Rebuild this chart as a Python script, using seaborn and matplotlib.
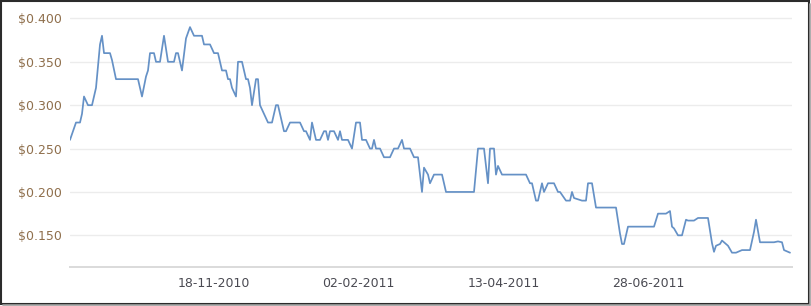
import matplotlib
matplotlib.use("Agg")
import matplotlib.pyplot as plt
import seaborn as sns
import pandas as pd
from matplotlib.patches import Rectangle
from matplotlib.lines import Line2D

# Trading-day index of each recorded point, and the price at that point
day = [0, 3, 5, 6, 7, 9, 11, 13, 15, 16, 17, 20, 21, 23, 34, 36, 38, 39, 40, 42,
       43, 45, 47, 49, 52, 53, 54, 56, 58, 60, 62, 66, 67, 70, 72, 74, 76, 78, 79, 80,
       81, 83, 84, 86, 88, 89, 90, 91, 93, 94, 95, 97, 99, 101, 103, 104, 105, 107, 108, 110,
       115, 117, 118, 120, 121, 123, 125, 127, 128, 129, 130, 132, 134, 135, 136, 139, 140, 141, 143, 145,
       146, 148, 150, 151, 152, 153, 155, 157, 160, 162, 164, 166, 167, 170, 172, 174, 176, 177, 179, 180,
       182, 186, 188, 202, 204, 207, 209, 210, 212, 213, 214, 216, 228, 230, 231, 233, 234, 236, 237, 239,
       242, 244, 245, 248, 250, 251, 252, 256, 258, 259, 261, 263, 273, 275, 276, 277, 279, 292, 294, 298,
       300, 301, 302, 304, 306, 308, 309, 312, 314, 319, 321, 322, 323, 325, 326, 328, 329, 331, 333, 336,
       340, 342, 343, 345, 352, 354, 356, 357, 360]
price = [0.260, 0.280, 0.280, 0.290, 0.310, 0.300, 0.300, 0.320, 0.370, 0.380, 0.360, 0.360, 0.352, 0.330, 0.330, 0.310, 0.333, 0.340, 0.360, 0.360,
         0.350, 0.350, 0.380, 0.350, 0.350, 0.360, 0.360, 0.340, 0.377, 0.390, 0.380, 0.380, 0.370, 0.370, 0.360, 0.360, 0.340, 0.340, 0.330, 0.330,
         0.320, 0.310, 0.350, 0.350, 0.330, 0.330, 0.320, 0.300, 0.330, 0.330, 0.300, 0.290, 0.280, 0.280, 0.300, 0.300, 0.290, 0.270, 0.270, 0.280,
         0.280, 0.270, 0.270, 0.260, 0.280, 0.260, 0.260, 0.270, 0.270, 0.260, 0.270, 0.270, 0.260, 0.270, 0.260, 0.260, 0.255, 0.250, 0.280, 0.280,
         0.260, 0.260, 0.250, 0.250, 0.260, 0.250, 0.250, 0.240, 0.240, 0.250, 0.250, 0.260, 0.250, 0.250, 0.240, 0.240, 0.200, 0.228, 0.220, 0.210,
         0.220, 0.220, 0.200, 0.200, 0.250, 0.250, 0.210, 0.250, 0.250, 0.220, 0.230, 0.220, 0.220, 0.210, 0.210, 0.190, 0.190, 0.210, 0.200, 0.210,
         0.210, 0.200, 0.200, 0.190, 0.190, 0.200, 0.193, 0.190, 0.190, 0.210, 0.210, 0.182, 0.182, 0.152, 0.140, 0.140, 0.160, 0.160, 0.175, 0.175,
         0.178, 0.160, 0.158, 0.150, 0.150, 0.168, 0.167, 0.167, 0.170, 0.170, 0.141, 0.131, 0.138, 0.140, 0.144, 0.140, 0.138, 0.130, 0.130, 0.133,
         0.133, 0.154, 0.168, 0.142, 0.142, 0.143, 0.142, 0.133, 0.130]

tick_days = [72, 144, 217, 289]
tick_labels = ["18-11-2010", "02-02-2011", "13-04-2011", "28-06-2011"]
y_ticks = [0.150, 0.200, 0.250, 0.300, 0.350, 0.400]

df = pd.DataFrame({"day": day, "price": price})

sns.set_style("white")
plt.rcParams["font.family"] = ["DejaVu Sans"]

fig = plt.figure(figsize=(8.11, 3.06), dpi=100)
ax = fig.add_axes([70 / 811, 39 / 306, 722 / 811, 259 / 306])

sns.lineplot(data=df, x="day", y="price", ax=ax, color="#6591c6", linewidth=1.25)
for ln in ax.lines:
    ln.set_solid_joinstyle("round")
    ln.set_solid_capstyle("round")

ax.set_xlim(0, 361)
ax.set_ylim(0.1135, 0.412)

ax.set_yticks(y_ticks)
ax.set_yticklabels([f"${v:.3f}" for v in y_ticks])
ax.set_xticks([0] + tick_days)
ax.set_xticklabels([""] + tick_labels)

ax.grid(axis="y", color="#ececec", linewidth=1.0)
ax.grid(axis="x", visible=False)
ax.set_axisbelow(True)

for s in ["top", "right", "left"]:
    ax.spines[s].set_visible(False)
ax.spines["bottom"].set_color("#dadada")
ax.spines["bottom"].set_linewidth(1.4)

ax.tick_params(axis="y", length=0, pad=6, labelsize=9, labelcolor="#8f6f4c")
ax.tick_params(axis="x", length=4, width=1, color="#cfcfcf", pad=3,
               labelsize=9, labelcolor="#4a4a52", direction="out")

ax.set_xlabel("")
ax.set_ylabel("")

# dark frame with a soft shadow along the bottom and right edges
W, H = 811.0, 306.0
fig.lines.append(Line2D([3 / W, 810 / W], [0.8 / H, 0.8 / H], transform=fig.transFigure,
                        color="#a0a0a0", linewidth=1.2))
fig.lines.append(Line2D([810.2 / W, 810.2 / W], [0.8 / H, 302 / H], transform=fig.transFigure,
                        color="#a0a0a0", linewidth=1.2))
fig.patches.append(Rectangle((1 / W, 2.5 / H), 807.5 / W, 302.5 / H, transform=fig.transFigure,
                             fill=False, edgecolor="#2b2b2b", linewidth=1.5))

fig.savefig("out.png", dpi=100)
